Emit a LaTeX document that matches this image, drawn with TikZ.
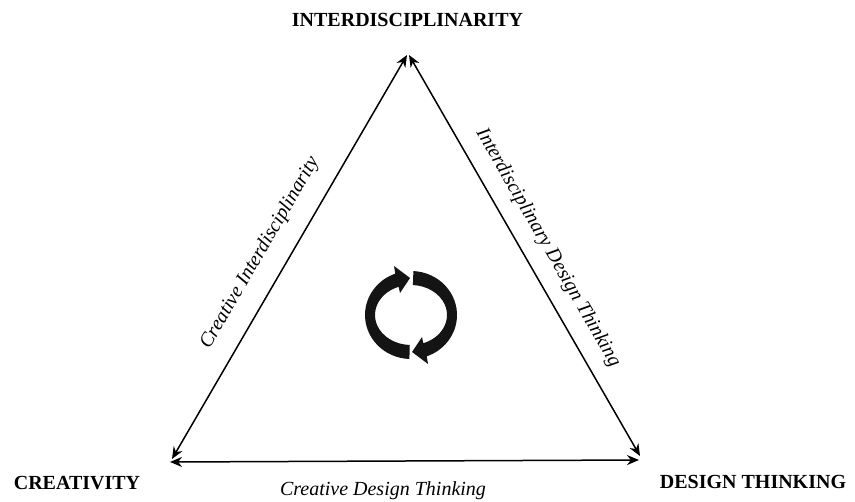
\documentclass[tikz,border=0pt]{standalone}
\usepackage{fontspec}
\setmainfont{Liberation Serif}
\usetikzlibrary{arrows.meta, positioning}

\tikzset{
    side/.style={draw, line width=0.75pt, {Stealth[length=6pt, width=5pt]}-{Stealth[length=6pt, width=5pt]}},
    cornerlabel/.style={font=\fontsize{10}{12}\selectfont\bfseries, inner sep=0pt},
    sidelabel/.style={font=\fontsize{10}{12}\selectfont\itshape, inner sep=0pt},
    cyclearrow/.style={fill=black!92, draw=none}
}

\begin{document}
\begin{tikzpicture}[x=0.5pt, y=-0.5pt]
                    \useasboundingbox (0, 0) rectangle (855, 502);

                    % corners of the triangle
                    \coordinate (top-l) at (407, 55);
                    \coordinate (top-r) at (409, 55);
                    \coordinate (left-u) at (172, 459);
                    \coordinate (left-d) at (170, 462);
                    \coordinate (right-u) at (640, 456);
                    \coordinate (right-d) at (639, 460);

                    \draw[side] (left-u) -- (top-l);
                    \draw[side] (top-r) -- (right-u);
                    \draw[side] (left-d) -- (right-d);

                    \node[cornerlabel] (inter) at (407.5, 20) {INTERDISCIPLINARITY};
                    \node[cornerlabel] (creat) at (77, 483) {CREATIVITY};
                    \node[cornerlabel] (design) at (753, 482) {DESIGN THINKING};

                    \node[sidelabel, rotate=59.8] (ci) at (260, 253) {Creative Interdisciplinarity};
                    \node[sidelabel, rotate=-60.1] (idt) at (548, 248) {Interdisciplinary Design Thinking};
                    \node[sidelabel] (cdt) at (383, 491) {Creative Design Thinking};

                    % cycle symbol
                    \begin{scope}[shift={(411, 315)}, yscale=-1]
                        \path[cyclearrow]
                        (268:46 and 44) arc[start angle=268, end angle=110, x radius=46, y radius=44]
                        -- (-17, 49) -- (-1, 37) -- (-11, 22)
                        -- (110:36 and 30) arc[start angle=110, end angle=268, x radius=36, y radius=30]
                        -- cycle;
                        \path[cyclearrow]
                        (87:46 and 44) arc[start angle=87, end angle=-70, x radius=46, y radius=44]
                        -- (17, -49) -- (1, -37) -- (11, -22)
                        -- (-70:36 and 30) arc[start angle=-70, end angle=87, x radius=36, y radius=30]
                        -- cycle;
                    \end{scope}
                \end{tikzpicture}
\end{document}
